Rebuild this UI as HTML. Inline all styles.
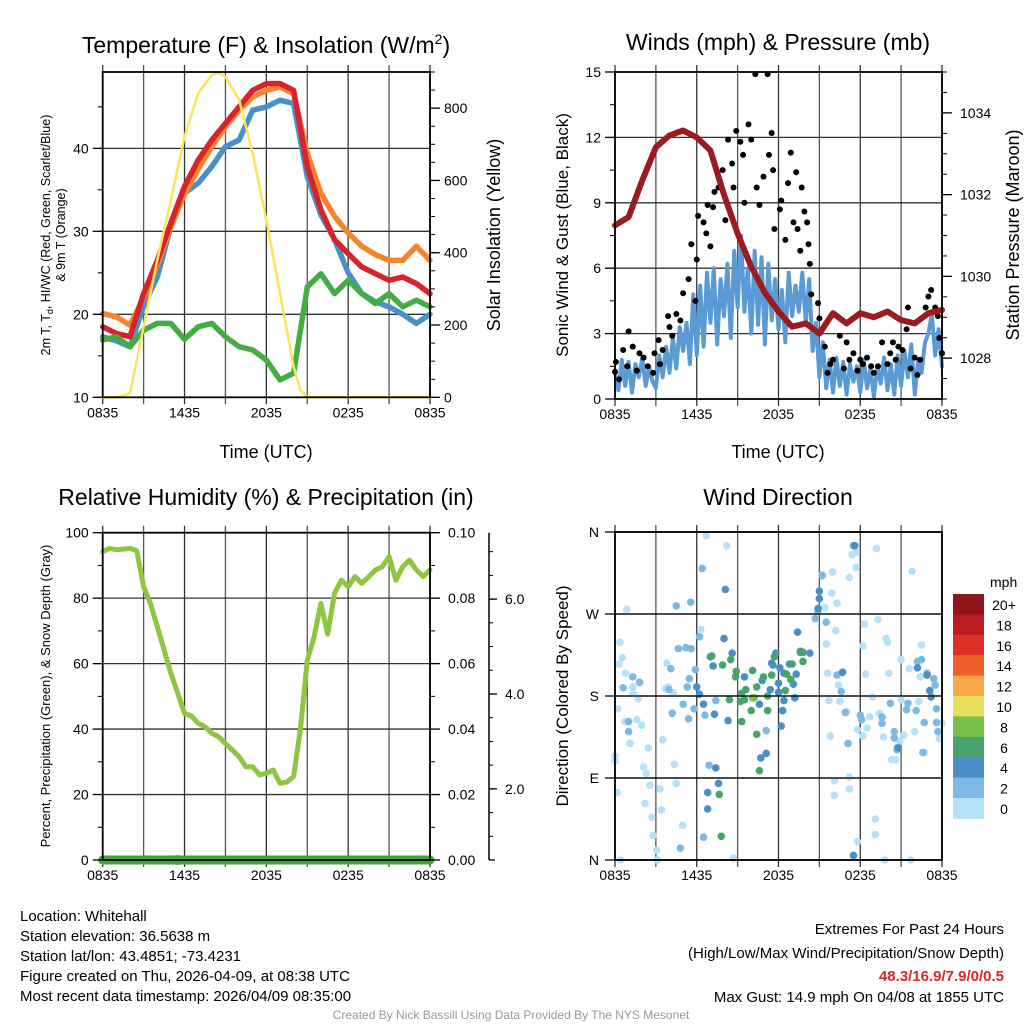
<!DOCTYPE html>
<html><head><meta charset="utf-8">
<style>
html,body{margin:0;padding:0;background:#fff;}
svg{display:block;font-family:"Liberation Sans",Arial,sans-serif;}
</style></head>
<body>
<svg id="chart" width="1024" height="1024" viewBox="0 0 1024 1024" xmlns="http://www.w3.org/2000/svg">
<rect width="1024" height="1024" fill="#fff"/>
<text x="266" y="53" font-size="23" text-anchor="middle">Temperature (F) &amp; Insolation (W/m<tspan font-size="14" dy="-9">2</tspan><tspan dy="9">)</tspan></text>
<text x="778" y="50" font-size="23" text-anchor="middle">Winds (mph) &amp; Pressure (mb)</text>
<text x="266" y="505" font-size="23" text-anchor="middle">Relative Humidity (%) &amp; Precipitation (in)</text>
<text x="778" y="505" font-size="23" text-anchor="middle">Wind Direction</text>
<text x="266" y="458" font-size="18" text-anchor="middle">Time (UTC)</text>
<text x="778" y="458" font-size="18" text-anchor="middle">Time (UTC)</text>
<text transform="translate(50,235) rotate(-90)" font-size="12.5" text-anchor="middle">2m T, T<tspan font-size="9" dy="3">d</tspan><tspan dy="-3">, HI/WC (Red, Green, Scarlet/Blue)</tspan></text>
<text transform="translate(65,235) rotate(-90)" font-size="12.5" text-anchor="middle">&amp; 9m T (Orange)</text>
<text transform="translate(500,235) rotate(-90)" font-size="18" text-anchor="middle">Solar Insolation (Yellow)</text>
<text transform="translate(568,235) rotate(-90)" font-size="17" text-anchor="middle">Sonic Wind &amp; Gust (Blue, Black)</text>
<text transform="translate(1019,235) rotate(-90)" font-size="18" text-anchor="middle">Station Pressure (Maroon)</text>
<text transform="translate(50,696) rotate(-90)" font-size="13" text-anchor="middle">Percent, Precipitation (Green), &amp; Snow Depth (Gray)</text>
<text transform="translate(568,696) rotate(-90)" font-size="17" text-anchor="middle">Direction (Colored By Speed)</text>
<g font-size="15">
<text x="20" y="921">Location: Whitehall</text>
<text x="20" y="941">Station elevation: 36.5638 m</text>
<text x="20" y="961">Station lat/lon: 43.4851; -73.4231</text>
<text x="20" y="981">Figure created on Thu, 2026-04-09, at 08:38 UTC</text>
<text x="20" y="1001">Most recent data timestamp: 2026/04/09 08:35:00</text>
</g>
<g font-size="15" text-anchor="end">
<text x="1004" y="934">Extremes For Past 24 Hours</text>
<text x="1004" y="958">(High/Low/Max Wind/Precipitation/Snow Depth)</text>
<text x="1004" y="981" fill="#d7262c" font-weight="bold">48.3/16.9/7.9/0/0.5</text>
<text x="1004" y="1002">Max Gust: 14.9 mph On 04/08 at 1855 UTC</text>
</g>
<text x="511" y="1019" font-size="12" fill="#999" text-anchor="middle">Created By Nick Bassill Using Data Provided By The NYS Mesonet</text>
</svg>
<script>
// ---------- DATA ----------
const hours = [0,1,2,3,4,5,6,7,8,9,10,11,12,13,14,15,16,17,18,19,20,21,22,23,24];
const temp2m = [18.5,17.7,17.3,22.5,26.5,31,35.4,38.6,41,43,45,47,47.8,47.8,47,37.8,32.6,29,27.3,25.7,24.9,24.1,24.5,23.7,22.5];
const temp9m = [20.1,19.7,18.7,22,26,30.5,34.5,37.5,40.2,42.6,44.6,46.2,47,47.4,46.6,39.4,34.6,31.8,29.8,28.2,27.2,26.5,26.5,28.2,26.5];
const windChill = [17.3,16.8,16.1,21,24.5,30.6,34.6,35.8,37.8,40.2,41,44.6,45,45.8,45.4,36.6,32,29,25,22.5,21.5,20.9,20,18.9,20];
const dewpoint = [16.9,17.3,16.1,18.1,18.9,18.9,17,18.5,18.9,17.3,16.1,15.7,14.5,12.1,12.9,23.3,24.9,22.5,24.1,22.5,21.3,22.5,20.9,21.7,20.9];
const insolHours = [0,1,2,2.5,3,4,5,6,7,8,8.5,9,10,11,12,13,14,14.5,15,16,24];
const insolation = [0,0,11,103,195,380,546,721,841,892,898,887,823,675,490,288,85,20,0,0,0];
const pressure = [1031.25,1031.45,1032.35,1033.16,1033.45,1033.57,1033.4,1033.08,1032.0,1031.05,1030.23,1029.6,1029.14,1028.77,1028.85,1028.6,1029.1,1028.85,1029.1,1029.0,1029.14,1028.93,1028.85,1029.1,1029.18];
const windSpeed = [1.2,0.4,1.8,0.6, 1.7,0.3,1.6,1.0, 1.9,0.6,1.5,0.8, 0.5,2.0,1.0,2.4, 1.2,2.8,1.4,3.3, 2.2,3.5,1.6,4.8, 2.0,5.2,2.4,5.8, 3.5,6.0,2.5,5.5, 3.8,6.2,2.8,6.8, 4.2,7.5,4.0,6.0, 3.0,6.8,3.4,6.5, 2.5,6.2,3.6,5.5, 3.2,5.0,2.6,5.8, 3.8,5.2,4.0,5.8, 3.5,5.5,2.2,3.5, 1.0,2.6,0.5,1.8, 0.3,1.9,0.6,1.7, 0.2,1.6,0.8,1.5, 0.3,1.8,0.5,1.4, 0.1,1.5,0.7,1.9, 0.4,1.6,0.2,2.0, 0.6,2.2,1.0,2.5, 0.2,1.8,1.2,2.6, 3.0,3.9,2.0,3.2, 1.5];
const gustHours = [0,0.07,0.6,1,1.3,1.8,2.1,2.8,2.9,3.2,3.5,3.9,4,4.2,4.5,4.8,5,5.4,5.6,5.9,6,6.1,6.5,6.7,6.8,7,7.2,7.3,7.6,7.9,8.1,8.3,8.6,8.7,8.9,9.2,9.4,9.5,9.8,10,10.3,10.4,10.6,10.9,11.2,11.3,11.5,11.6,11.7,12.1,12.2,12.5,12.7,12.9,13.1,13.3,13.4,13.6,13.7,13.9,14.1,14.2,14.3,14.4,14.9,15,15.4,15.8,16.5,17,17.5,18,18.5,18.8,19.6,20.2,20.4,20.8,21.1,21.4,21.5,22,22.4,22.8,23,23.2,23.5,23.7,24,0.3,0.9,1.6,2.4,3.3,15.6,16,16.8,17.2,17.8,18.2,19,19.3,20,20.6,21.7,22.2,23.8];
const gustSpeed = [1.25,1.7,2.25,3.1,2.4,2.1,1.9,1.2,2.1,2.7,2.25,3.8,3.3,2.9,3.9,3.6,4.85,5.5,7.1,4.5,6.4,8.4,8.1,7.6,8.9,7,8.8,9.5,9.7,10.5,8.2,11.9,10.8,9.7,12.3,11.8,11.2,9,12.6,11.9,14.9,9.7,8.9,10.2,14.9,11.2,12.2,10.5,7.8,8.7,9.1,7.3,9.9,11.3,8.1,10.4,7.8,6.8,9.7,8.6,8.1,7.1,6.2,4.8,4.4,3.7,2.4,1.6,2.9,2.6,2.1,1.8,1.9,1.5,2.6,2.1,2.6,2.4,2.25,3.2,4.2,1.9,1.8,4.2,4.7,5,4.2,3.8,2.1,0.9,1.5,1.3,1.5,1.6,1.2,1.8,1.4,1.8,1.3,1.6,1.2,1.5,1.6,1.8,1.4,1.1,2.8];
const rhHours = [0,0.5,1,1.5,2,2.5,3,3.5,4,4.5,5,5.5,6,6.5,7,7.5,8,8.5,9,9.5,10,10.5,11,11.5,12,12.5,13,13.5,14,14.5,15,15.5,16,16.5,17,17.5,18,18.5,19,19.5,20,20.5,21,21.5,22,22.5,23,23.5,24];
const relHum = [94.2,95.2,94.8,95,95.2,94.5,83.5,78.4,71.3,64.2,57,51,44.8,44,41.8,40.7,38.7,37.7,35.6,33.6,31.6,28.5,28.5,26,26.5,27.5,23.4,23.8,25.5,40,61,68.2,78.4,69,81.5,85.5,83.5,86.6,84.5,86.5,88.6,89.6,92.7,85.5,89.6,91.6,88.6,86.6,88.6];
const precipHours = [0,24];
const precip = [0,0];
// wind direction points: hour, degrees (0=N,90=E,180=S,270=W), speed (mph)
const dirHours = [0.86,0.37,0.54,0.78,0.29,1.3,1.34,1.7,0.2,0.73,1.6,1.96,1.1,0,0,2.44,2.1,2.3,2.57,0.17,2.2,2.7,2.8,3.06,0.4,3.1,3.3,3.4,3.5,3.8,3.7,4.35,4.5,4.96,4.3,3.9,6.3,8.2,6.7,8.7,15.2,15.97,17.4,17.7,19.2,17.7,15.9,16.3,15.4,17.2,21.8,18.3,19.3,16.2,15.5,18.2,19.9,20,21,22.5,15.6,18.4,20.1,21.6,22.4,16.4,15.7,16.5,17,18.9,21,22.3,18.7,19.4,17.8,18.5,18.2,22,19.7,21.2,15.8,20.3,20.6,20.9,22.7,16.1,16.1,17.2,17.2,19.1,19.1,17.8,19.8,21.7,24,23.8,
4.5,5.55,4.65,5.2,5.6,6.2,5.9,5.45,5.3,4.1,3.96,5,5.8,5.4,4.2,6.4,1.3,1.8,0.6,1.0,1.0,6.6,7.4,6.9,4.8,6.5,11.1,14.7,14.9,15.5,15.2,16.3,16.7,16.6,16.9,17.1,18,18.1,19.6,19.6,20.2,20.5,20.5,21.5,21.4,22.1,22.2,22.5,22.9,23.4,23.5,23.6,23.6,22.7,22.6,23.7,17.5,17.5,20.7,20.7,
8.1,8,8.6,7,7.2,6,6.2,6.5,7.3,8.3,7.4,6.8,7.6,6.8,9.5,10.8,10.6,11.4,11.5,11.6,12.1,12,12.4,12,12.4,12.3,12.2,10.7,11.1,11.8,12.8,13.1,13.3,13.2,13.4,13.6,14.3,14.9,15,15,16.7,23.1,23.2,22.9,20.8,17.5,17.6,22.2,
7.1,7.9,8.5,8.9,8.85,9.3,9.5,9.6,10.1,10.4,10,10.9,11.2,11.2,9.3,10.4,10.6,7.65,7.8,8.4,11.5,11.7,12.5,12.6,12.9,13,13.6,13.8,13.8,9.2,
10.1,10.2];
const dirDeg = [275,239,222,205,215,190,183,177,166,152,154,148,128,114,109,123,102,95,82,74,62,47,27,11,0,0,78,55,132,216,188,105,84,38,183,190,253,345,356,2,313,316,335,338,342,321,293,282,277,310,317,259,264,252,237,235,243,239,220,236,205,204,205,210,201,192,175,174,163,179,176,174,157,161,143,145,136,141,135,137,136,110,110,130,118,87,71,91,78,45,28,20,0,0,150,133,
279,283,232,233,232,245,209,199,190,210,187,171,166,155,161,320,201,195,189,152,141,159,175,104,13,25,142,265,273,261,312,203,206,185,162,128,159,154,157,150,172,141,134,172,165,164,218,220,205,199,192,166,151,151,118,141,345,5,123,121,
297,243,227,223,213,190,182,171,160,153,101,74,84,56,201,197,171,187,216,214,211,194,205,184,175,164,147,112,117,227,215,193,204,178,250,229,227,276,287,295,206,186,179,203,123,5,345,211,
224,214,220,207,201,183,176,187,208,190,164,201,180,164,152,138,98,72,26,176,203,223,186,204,198,215,228,228,218,174,
178,178];
const dirSpeed = [1,1,1,1,1,1,1,1,1,1,1,1,1,1,1,1,1,1,1,1,1,1,1,1,1,1,1,1,1,1,1,1,1,1,1,1,1,1,1,1,1,1,1,1,1,1,1,1,1,1,1,1,1,1,1,1,1,1,1,1,1,1,1,1,1,1,1,1,1,1,1,1,1,1,1,1,1,1,1,1,1,1,1,1,1,1,1,1,1,1,1,1,1,1,1,1,
3,3,3,3,3,3,3,3,3,3,3,3,3,3,3,3,3,3,3,3,3,3,3,3,3,3,3,3,3,3,3,3,3,3,3,3,3,3,3,3,3,3,3,3,3,3,3,3,3,3,3,3,3,3,3,3,3,3,3,3,
5,5,5,5,5,5,5,5,5,5,5,5,5,5,5,5,5,5,5,5,5,5,5,5,5,5,5,5,5,5,5,5,5,5,5,5,5,5,5,5,5,5,5,5,5,5,5,5,
7,7,7,7,7,7,7,7,7,7,7,7,7,7,7,7,7,7,7,7,7,7,7,7,7,7,7,7,7,7,
9,9];
const timeTickHours = [0,6,12,18,24];
const timeTickLabels = ['0835','1435','2035','0235','0835'];
const tempTicks = [10,20,30,40];
const insolTicks = [0,200,400,600,800];
const windTicks = [0,3,6,9,12,15];
const pressTicks = [1028,1030,1032,1034];
const rhTicks = [0,20,40,60,80,100];
const precipTicks = [0,0.02,0.04,0.06,0.08,0.10];
const snowTicks = [2,4,6];
const dirTicks = [0,90,180,270,360];
const dirTickLabels = ['N','E','S','W','N'];
const speedBins = ['0','2','4','6','8','10','12','14','16','18','20+'];
const speedColors = ['#b5e2f8','#7cb9e4','#4a8fc8','#47a56c','#7bc24c','#e6e05a','#f6a847','#ef612c','#dc3129','#bb1c24','#8e1519'];

// ---------- HELPERS ----------
const svg = document.getElementById('chart');
const NS = 'http://www.w3.org/2000/svg';
function mk(tag, attrs, parent){
  const e = document.createElementNS(NS, tag);
  for (const k in attrs) e.setAttribute(k, attrs[k]);
  (parent || svg).appendChild(e);
  return e;
}
function lin(d0,d1,r0,r1){ return v => r0 + (v-d0)/(d1-d0)*(r1-r0); }

// panel geometry
const P1 = {x0:102.7,x1:430,yb:397.3,yt:72};
const P2 = {x0:615,x1:942,yb:399,yt:72};
const P3 = {x0:102.7,x1:430,yb:860,yt:532.7};
const P4 = {x0:615,x1:942,yb:860,yt:532};

const x1s = lin(0,24,P1.x0,P1.x1), y1T = lin(10,49.2,P1.yb,P1.yt), y1I = lin(0,900,P1.yb,P1.yt);
const x2s = lin(0,24,P2.x0,P2.x1), y2W = lin(0,15,P2.yb,P2.yt), y2P = lin(1027,1035,P2.yb,P2.yt);
const x3s = lin(0,24,P3.x0,P3.x1), y3R = lin(0,100,P3.yb,P3.yt), y3P = lin(0,0.1,P3.yb,P3.yt), y3S = lin(0.5,7.4,P3.yb,P3.yt);
const x4s = lin(0,24,P4.x0,P4.x1), y4D = lin(0,360,P4.yb,P4.yt);

function grid(P, xs, gridVals, ys, name){
  const g = mk('g', {});
  
  
  for (let h=0; h<=24; h+=3){
    const x = xs(h);
    const l = mk('line',{x1:x,x2:x,y1:P.yt-7,y2:P.yb+7,stroke:(h%6===0?'#333':'#555'),'stroke-width':1.3},g);
    
    
  }
  gridVals.forEach(v=>{
    const y = ys(v);
    const l = mk('line',{x1:P.x0,x2:P.x1,y1:y,y2:y,stroke:'#333','stroke-width':1.3},g);
    
    
  });
  timeTickHours.forEach((h,i)=>{
    const t = mk('text',{x:xs(h),y:P.yb+20,'font-size':14,'text-anchor':'middle'},g);
    
    
    t.textContent = timeTickLabels[i];
  });
}
function frame(P, name){
  const r = mk('rect',{x:P.x0,y:P.yt,width:P.x1-P.x0,height:P.yb-P.yt,fill:'none',stroke:'#000','stroke-width':1.8});
  
  
}
function leftAxis(P, ys, ticks, labels, minorStep, lo, hi, name){
  const g = mk('g',{});
  
  
  ticks.forEach((v,i)=>{
    const y = ys(v);
    mk('line',{x1:P.x0-10,x2:P.x0,y1:y,y2:y,stroke:'#000','stroke-width':1.3},g);
    const t = mk('text',{x:P.x0-14,y:y+5,'font-size':14,'text-anchor':'end'},g);
    
    
    t.textContent = labels ? labels[i] : v;
  });
  if (minorStep) for (let v=lo; v<=hi+1e-9; v+=minorStep){
    const y = ys(v);
    mk('line',{x1:P.x0-5,x2:P.x0,y1:y,y2:y,stroke:'#000','stroke-width':1},g);
  }
}
function rightAxis(P, ys, ticks, labels, minorStep, lo, hi, name, lx){
  const g = mk('g',{});
  
  
  ticks.forEach((v,i)=>{
    const y = ys(v);
    mk('line',{x1:P.x1,x2:P.x1+10,y1:y,y2:y,stroke:'#000','stroke-width':1.3},g);
    const t = mk('text',{x:P.x1+(lx||14),y:y+5,'font-size':14,'text-anchor':'start'},g);
    
    
    t.textContent = labels ? labels[i] : v;
  });
  if (minorStep) for (let v=lo; v<=hi+1e-9; v+=minorStep){
    const y = ys(v);
    if (y < P.yt-0.5 || y > P.yb+0.5) continue;
    mk('line',{x1:P.x1,x2:P.x1+5,y1:y,y2:y,stroke:'#000','stroke-width':1},g);
  }
}
function series(xsArr, ysArr, xs, ys, color, w, name, clip){
  const pts = xsArr.map((h,i)=> xs(h).toFixed(1)+','+ys(ysArr[i]).toFixed(1)).join(' ');
  const p = mk('polyline',{points:pts,fill:'none',stroke:color,'stroke-width':w,'stroke-linejoin':'round','stroke-linecap':'round'});
  if (clip) p.setAttribute('clip-path', clip);
  
  
  return p;
}

// ---------- PANEL 1 ----------
grid(P1, x1s, tempTicks, y1T, 'temp-grid');
series(hours, windChill, x1s, y1T, '#4a90c8', 5.5, 'wind-chill-line');
series(hours, temp9m, x1s, y1T, '#f5842f', 5.5, 'temp-9m-line');
series(hours, temp2m, x1s, y1T, '#d8232a', 5.5, 'temp-2m-line');
series(hours, dewpoint, x1s, y1T, '#43ad42', 5.5, 'dewpoint-line');
series(insolHours, insolation, x1s, y1I, '#fde35a', 2.5, 'insolation-line');
frame(P1, 'temp-plot-frame');
leftAxis(P1, y1T, tempTicks, null, 5, 10, 45, 'temp-left-axis');
rightAxis(P1, y1I, insolTicks, null, 50, 0, 900, 'insolation-right-axis');

// ---------- PANEL 2 ----------
grid(P2, x2s, [3,6,9,12], y2W, 'wind-grid');
const windHours = windSpeed.map((v,i)=> i*0.25);
series(windHours, windSpeed, x2s, y2W, '#5b9bd5', 4, 'sonic-wind-line');
gustHours.forEach((h,i)=>{
  const c = mk('circle',{cx:x2s(h),cy:y2W(gustSpeed[i]),r:3,fill:'#000'});
  
  
});
series(hours, pressure, x2s, y2P, '#9b1b1e', 6, 'pressure-line');
frame(P2, 'wind-plot-frame');
leftAxis(P2, y2W, windTicks, null, 1.5, 0, 15, 'wind-left-axis');
rightAxis(P2, y2P, pressTicks, null, 0.5, 1027, 1035, 'pressure-right-axis', 18);

// ---------- PANEL 3 ----------
grid(P3, x3s, rhTicks.slice(1,5), y3R, 'rh-grid');
series(rhHours, relHum, x3s, y3R, '#8dc63f', 5, 'relative-humidity-line');
const snowBlob = mk('ellipse',{cx:x3s(5.5),cy:P3.yb,rx:8,ry:5,fill:'#aaa'});


series(precipHours, precip, x3s, y3P, '#3aab3a', 9, 'precipitation-line');
frame(P3, 'rh-plot-frame');
leftAxis(P3, y3R, rhTicks, null, 10, 0, 100, 'rh-left-axis');
rightAxis(P3, y3P, precipTicks, precipTicks.map(v=>v.toFixed(2)), 0.01, 0, 0.1, 'precip-right-axis', 18);
(function(){
  const g = mk('g',{});
  
  
  const ax = 489;
  mk('line',{x1:ax,x2:ax,y1:P3.yt,y2:P3.yb,stroke:'#000','stroke-width':1.5},g);
  mk('line',{x1:ax,x2:ax+6,y1:P3.yb,y2:P3.yb,stroke:'#000','stroke-width':1.3},g);
  for (let v=1; v<=7; v+=0.5){
    const y=y3S(v);
    mk('line',{x1:ax,x2:ax+4,y1:y,y2:y,stroke:'#000','stroke-width':1},g);
  }
  snowTicks.forEach(v=>{
    const y=y3S(v);
    mk('line',{x1:ax,x2:ax+8,y1:y,y2:y,stroke:'#000','stroke-width':1.3},g);
    const t = mk('text',{x:ax+16,y:y+5,'font-size':14},g);
    
    
    t.textContent = v.toFixed(1);
  });
})();

// ---------- PANEL 4 ----------
grid(P4, x4s, [90,180,270], y4D, 'direction-grid');
function speedColor(s){ return speedColors[Math.min(10, Math.floor(s/2))]; }
dirHours.forEach((h,i)=>{
  const c = mk('circle',{cx:x4s(h),cy:y4D(dirDeg[i]),r:3.8,fill:speedColor(dirSpeed[i])});
  
  
});
frame(P4, 'direction-plot-frame');
(function(){
  const g = mk('g',{});
  
  
  dirTicks.forEach((d,i)=>{
    const y=y4D(d);
    mk('line',{x1:P4.x0-10,x2:P4.x1,y1:y,y2:y,stroke:'#000','stroke-width':1.3},g);
    const t = mk('text',{x:P4.x0-16,y:y+5,'font-size':14,'text-anchor':'end'},g);
    
    
    t.textContent = dirTickLabels[i];
  });
})();
// colorbar
(function(){
  const g = mk('g',{});
  
  
  const top=594, h=20.4, x=953, w=31;
  const u = mk('text',{x:990,y:587,'font-size':14},g);
  
  
  u.textContent='mph';
  for (let i=0;i<speedBins.length;i++){
    const idx = speedBins.length-1-i;
    const r = mk('rect',{x:x,y:top+i*h,width:w,height:h+0.5,fill:speedColors[idx]},g);
    
    
    const t = mk('text',{x:1004,y:top+i*h+16,'font-size':14,'text-anchor':'middle'},g);
    
    
    t.textContent = speedBins[idx];
  }
})();
</script>
</body></html>
